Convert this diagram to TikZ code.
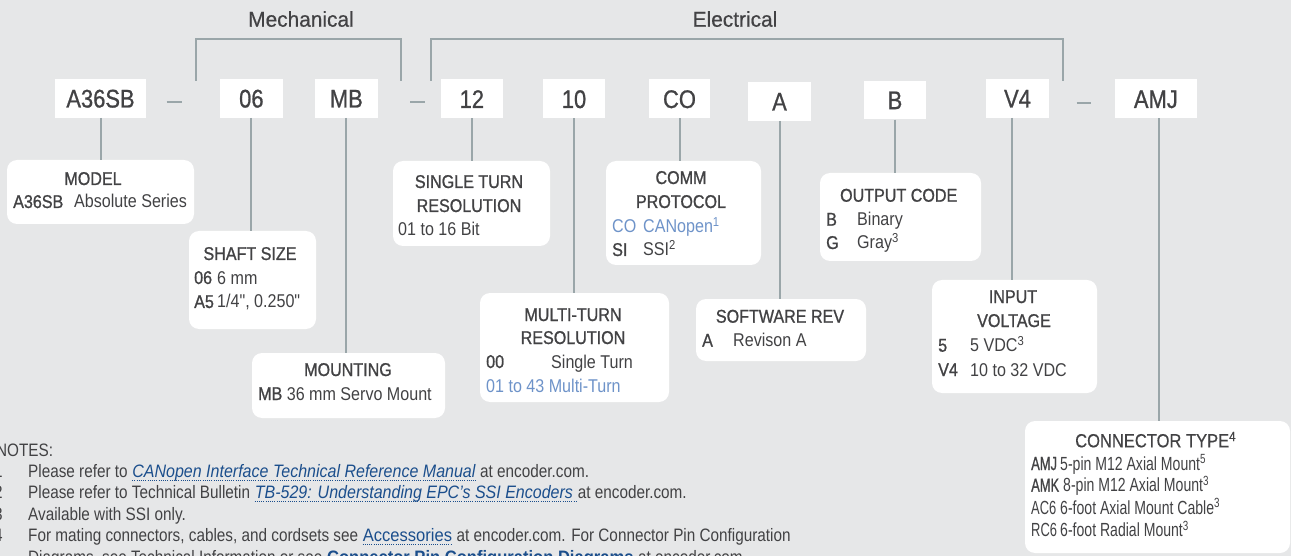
\documentclass[tikz,border=0pt]{standalone}
\usepackage{fontspec}
\setmainfont{Liberation Sans}
\newfontfamily\FFhead{Liberation Sans}[FakeStretch=0.97,FakeBold=0.5]
\newfontfamily\FFcode{Liberation Sans}[FakeStretch=0.86,FakeBold=0.8]
\newfontfamily\FFdesc{Liberation Sans}[FakeStretch=0.87]
\newfontfamily\FFdescb{Liberation Sans}[FakeStretch=0.87,FakeBold=1.0]
\newfontfamily\FFconh{Liberation Sans}[FakeStretch=0.87,FakeBold=0.5]
\newfontfamily\FFconb{Liberation Sans}[FakeStretch=0.74]
\newfontfamily\FFconc{Liberation Sans}[FakeStretch=0.68]
\newfontfamily\FFconbb{Liberation Sans}[FakeStretch=0.68,FakeBold=0.8]
\newfontfamily\FFnote{Liberation Sans}[FakeStretch=0.85]
\newfontfamily\FFlink{Liberation Sans}[FakeStretch=0.92]
\newfontfamily\FFlinki{Liberation Sans}[FakeStretch=0.89]
\definecolor{bg}{HTML}{E6E7E8}
\definecolor{ln}{HTML}{9AA6A9}
\definecolor{tx}{HTML}{424244}
\definecolor{lblue}{HTML}{6E93C9}
\definecolor{lnk}{HTML}{1B4E8C}
\tikzset{
  conn/.style={draw=ln, line width=2pt},
  dashmark/.style={draw=ln, line width=2pt},
  codebox/.style={fill=white, inner sep=0pt, minimum height=38.7pt, text height=18.3pt, text depth=0pt, text=tx, font=\FFcode\fontsize{25.5}{28}\selectfont},
  descbox/.style={fill=white, rounded corners=10pt, inner sep=0pt},
  hd/.style={anchor=base, inner sep=0pt, text=tx, font=\FFhead\fontsize{21.5}{25}\selectfont},
  dh/.style={anchor=base, inner sep=0pt, text=tx, font=\FFdescb\fontsize{18.5}{22}\selectfont},
  dc/.style={anchor=base west, inner sep=0pt, text=tx, font=\FFdescb\fontsize{18.5}{22}\selectfont},
  dt/.style={anchor=base west, inner sep=0pt, text=tx, font=\FFdesc\fontsize{18.5}{22}\selectfont},
  ch/.style={anchor=base west, inner sep=0pt, text=tx, font=\FFconh\fontsize{19}{22}\selectfont},
  cc/.style={anchor=base west, inner sep=0pt, text=tx, font=\FFconbb\fontsize{19}{22}\selectfont},
  cr/.style={anchor=base west, inner sep=0pt, text=tx, font=\FFconc\fontsize{19}{22}\selectfont},
  cd/.style={anchor=base west, inner sep=0pt, text=tx, font=\FFconb\fontsize{19}{22}\selectfont},
  nt/.style={anchor=base west, inner sep=0pt, text=tx, font=\FFnote\fontsize{18}{21}\selectfont},
  lk/.style={anchor=base west, inner sep=0pt, text=lnk, font=\FFlink\fontsize{18}{21}\selectfont},
  lki/.style={anchor=base west, inner sep=0pt, text=lnk, font=\FFlinki\fontsize{18}{21}\selectfont\itshape},
  ul/.style={draw=lnk, line width=1pt, dash pattern=on 1pt off 1.2pt},
}
\begin{document}
\begin{tikzpicture}[x=1pt,y=-1pt]
\path[use as bounding box, fill=bg] (0,0) rectangle (1291,556);
\clip (0,0) rectangle (1291,556);

% headers and brackets
\node[hd] (mech) at (301,26.7) {Mechanical};
\node[hd] (elec) at (735,26.7) {Electrical};
\coordinate (mbl) at (196,80.7);
\coordinate (mtl) at (196,39);
\coordinate (mtr) at (400.7,39);
\coordinate (mbr) at (400.7,80.7);
\coordinate (ebl) at (431,81);
\coordinate (etl) at (431,39);
\coordinate (etr) at (1063.3,39);
\coordinate (ebr) at (1063.3,81);
\draw[conn] (mbl) -- (mtl) -- (mtr) -- (mbr);
\draw[conn] (ebl) -- (etl) -- (etr) -- (ebr);

% code boxes
\node[codebox, minimum width=91pt] (ca36) at (100.5,98.35) {A36SB};
\node[codebox, minimum width=62.7pt] (c06) at (251.35,98.35) {06};
\node[codebox, minimum width=62.7pt] (cmb) at (346.35,98.35) {MB};
\node[codebox, minimum width=61.7pt] (c12) at (471.85,98.85) {12};
\node[codebox, minimum width=62pt] (c10) at (574,98.85) {10};
\node[codebox, minimum width=61pt] (cco) at (679.5,98.85) {CO};
\node[codebox, minimum width=63pt] (ca) at (779.5,101.35) {A};
\node[codebox, minimum width=62pt] (cb) at (895,100) {B};
\node[codebox, minimum width=63pt] (cv4) at (1017.5,98.35) {V4};
\node[codebox, minimum width=81.7pt] (camj) at (1155.85,98.85) {AMJ};
\draw[dashmark] (166.7,102) -- (181.7,102);
\draw[dashmark] (410,102) -- (425,102);
\draw[dashmark] (1076.7,102.7) -- (1091,102.7);

% description boxes
\node[descbox, minimum width=187pt, minimum height=64pt] (dmodel) at (100.5,192) {};
\node[descbox, minimum width=127pt, minimum height=98pt] (dshaft) at (252.5,280) {};
\node[descbox, minimum width=193pt, minimum height=65pt] (dmount) at (348.5,385.5) {};
\node[descbox, minimum width=157pt, minimum height=85pt] (dsingle) at (471.5,203.5) {};
\node[descbox, minimum width=189pt, minimum height=109pt] (dmulti) at (574.5,347.5) {};
\node[descbox, minimum width=155pt, minimum height=104pt] (dcomm) at (683.5,213) {};
\node[descbox, minimum width=170pt, minimum height=62pt] (dsoft) at (781,330) {};
\node[descbox, minimum width=161pt, minimum height=88pt] (dout) at (900.5,217) {};
\node[descbox, minimum width=165pt, minimum height=113pt] (dvolt) at (1014.5,336.5) {};
\node[descbox, minimum width=265pt, minimum height=132pt] (dconn) at (1157.5,487) {};

% connectors
\draw[conn] (ca36.south) -- (ca36.south |- dmodel.north);
\draw[conn] (c06.south) -- (c06.south |- dshaft.north);
\draw[conn] (cmb.south) -- (cmb.south |- dmount.north);
\draw[conn] (c12.south) -- (c12.south |- dsingle.north);
\draw[conn] (c10.south) -- (c10.south |- dmulti.north);
\draw[conn] (cco.south) -- (cco.south |- dcomm.north);
\draw[conn] (ca.south) -- (ca.south |- dsoft.north);
\draw[conn] (cb.south) -- (cb.south |- dout.north);
\draw[conn] ([xshift=-5.2pt]cv4.south) -- ([xshift=-5.2pt]cv4.south |- dvolt.north);
\draw[conn] ([xshift=2.9pt]camj.south) -- ([xshift=2.9pt]camj.south |- dconn.north);

% MODEL
\node[dh] (tmodel) at (93,185) {MODEL};
\node[dc] (tmodelc) at (13,208) {A36SB};
\node[dt] (tmodeld) at (74,208) {Absolute Series};
% SHAFT SIZE
\node[dh] (tshaft) at (250,260) {SHAFT SIZE};
\node[dc] (tshc1) at (194,284) {06};
\node[dt] (tshd1) at (217,284) {6 mm};
\node[dc] (tshc2) at (194,308) {A5};
\node[dt] (tshd2) at (217,308) {1/4", 0.250"};
% MOUNTING
\node[dh] (tmount) at (348,376) {MOUNTING};
\node[dt] (tmod) at (258,400) {{\FFdescb MB} 36 mm Servo Mount};
% SINGLE TURN
\node[dh] (tsing1) at (469,188) {SINGLE TURN};
\node[dh] (tsing2) at (469,212) {RESOLUTION};
\node[dt] (tsingd) at (398,236) {01 to 16 Bit};
% COMM
\node[dh] (tcomm1) at (681,184) {COMM};
\node[dh] (tcomm2) at (681,208) {PROTOCOL};
\node[dt, text=lblue] (tcoc) at (612,232.7) {CO};
\node[dt, text=lblue] (tcod) at (643,232.7) {CANopen\textsuperscript{1}};
\node[dc] (tsic) at (612,256) {SI};
\node[dt] (tsid) at (643,256) {SSI\textsuperscript{2}};
% MULTI
\node[dh] (tmul1) at (573,321) {MULTI-TURN};
\node[dh] (tmul2) at (573,344) {RESOLUTION};
\node[dc] (tmulc) at (486,368) {00};
\node[dt] (tmuld) at (551,368) {Single Turn};
\node[dt, text=lblue] (tmul3) at (486,392.7) {01 to 43 Multi-Turn};
% SOFTWARE
\node[dh] (tsoft) at (780,322.7) {SOFTWARE REV};
\node[dc] (tsoc) at (702,346.7) {A};
\node[dt] (tsod) at (733,346.7) {Revison A};
% OUTPUT
\node[dh] (tout) at (898.7,201.7) {OUTPUT CODE};
\node[dc] (toc1) at (826,225.7) {B};
\node[dt] (tod1) at (857,225.7) {Binary};
\node[dc] (toc2) at (826,249) {G};
\node[dt] (tod2) at (857,249) {Gray\textsuperscript{3}};
% VOLTAGE
\node[dh] (tvol1) at (1013,303) {INPUT};
\node[dh] (tvol2) at (1014,327) {VOLTAGE};
\node[dc] (tvc1) at (938,351.7) {5};
\node[dt] (tvd1) at (970,351.7) {5 VDC\textsuperscript{3}};
\node[dc] (tvc2) at (938,376) {V4};
\node[dt] (tvd2) at (970,376) {10 to 32 VDC};
% CONNECTOR
\node[ch] (tcon) at (1075,447.3) {CONNECTOR TYPE\textsuperscript{4}};
\node[cc] (tcc1) at (1031,470) {AMJ};
\node[cd] (tcd1) at (1060,470) {5-pin M12 Axial Mount\textsuperscript{5}};
\node[cc] (tcc2) at (1031,491.7) {AMK};
\node[cd] (tcd2) at (1063,491.7) {8-pin M12 Axial Mount\textsuperscript{3}};
\node[cr] (tcc3) at (1031,514) {AC6};
\node[cd] (tcd3) at (1060,514) {6-foot Axial Mount Cable\textsuperscript{3}};
\node[cr] (tcc4) at (1031,536.7) {RC6};
\node[cd] (tcd4) at (1060,536.7) {6-foot Radial Mount\textsuperscript{3}};

% NOTES
\node[nt] (notes) at (-4,456) {NOTES:};
\node[nt] (num1) at (-6,477) {1};
\node[nt] (num2) at (-6,498) {2};
\node[nt] (num3) at (-6,520) {3};
\node[nt] (num4) at (-6,541.7) {4};
\node[nt] (n1a) at (28,477) {Please refer to\ \hbox{}};
\node[lki] (n1b) at (n1a.base east) {CANopen Interface Technical Reference Manual};
\node[nt] (n1c) at (n1b.base east) {\ at encoder.com.};
\node[nt] (n2a) at (28,498) {Please refer to Technical Bulletin\ \hbox{}};
\node[lki] (n2b) at (n2a.base east) {TB-529: Understanding EPC’s SSI Encoders\ \hbox{}};
\node[nt] (n2c) at (n2b.base east) {at encoder.com.};
\node[nt] (n3a) at (28,520) {Available with SSI only.};
\node[nt] (n4a) at (28,541.7) {For mating connectors, cables, and cordsets see\ \hbox{}};
\node[lk] (n4b) at (n4a.base east) {Accessories};
\node[nt] (n4c) at (n4b.base east) {\ at encoder.com. For Connector Pin Configuration};
\node[nt] (n5a) at (28,563.3) {Diagrams, see Technical Information or see\ \hbox{}};
\node[lk, font=\FFlink\fontsize{18}{21}\selectfont\bfseries] (n5b) at (n5a.base east) {Connector Pin Configuration Diagrams};
\node[nt] (n5c) at (n5b.base east) {\ at encoder.com.};
\draw[ul] ([yshift=-3pt]n1b.base west) -- ([yshift=-3pt]n1b.base east);
\draw[ul] ([yshift=-3pt]n2b.base west) -- ([yshift=-3pt]n2b.base east);
\draw[ul] ([yshift=-3pt]n4b.base west) -- ([yshift=-3pt]n4b.base east);
\end{tikzpicture}
\end{document}
